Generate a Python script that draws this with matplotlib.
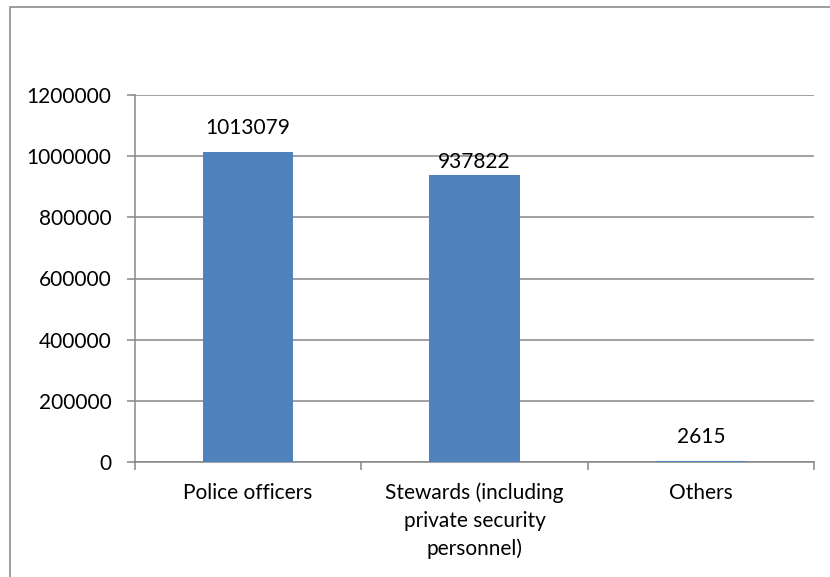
import matplotlib.pyplot as plt
from matplotlib.patches import Rectangle

categories = ["Police officers", "Stewards (including\nprivate security\npersonnel)", "Others"]
values = [1013079, 937822, 2615]
y_ticks = [0, 200000, 400000, 600000, 800000, 1000000, 1200000]

# label offsets above each bar, in points
label_offsets = [10, 2, 10]

plt.rcParams['font.family'] = ['Lato', 'DejaVu Sans']
fs = 15

fig = plt.figure(figsize=(8.3, 5.77), dpi=100)
ax = fig.add_axes([135 / 830, 115 / 577, 679 / 830, 367 / 577])

# chart frame
fig.patches.append(Rectangle((10 / 830, -0.1), 1.2, (570 / 577) + 0.1,
                             transform=fig.transFigure, fill=False,
                             edgecolor='#8c8c8c', linewidth=1.2))

x = range(len(categories))
ax.bar(x, values, width=0.4, color='#4f81bd', zorder=3)

for i, v in enumerate(values):
    ax.annotate(str(v), (i, v), xytext=(0, label_offsets[i]), textcoords='offset points',
                ha='center', va='bottom', fontsize=fs)

ax.set_xlim(-0.5, len(categories) - 0.5)
ax.set_ylim(0, 1200000)
ax.set_yticks(y_ticks)
ax.set_yticklabels([str(t) for t in y_ticks], fontsize=fs)
ax.yaxis.grid(True, color='#868686', linewidth=1.1, zorder=0)

ax.set_xticks(x)
ax.set_xticklabels(categories, fontsize=fs, linespacing=1.45)
ax.tick_params(axis='x', length=0, pad=15)
ax.set_xticks([-0.5, 0.5, 1.5, 2.5], minor=True)
ax.tick_params(axis='x', which='minor', length=6, color='#868686', width=1.1)
ax.tick_params(axis='y', length=6, color='#868686', width=1.1, pad=11)

for side in ['top', 'right']:
    ax.spines[side].set_visible(False)
for side in ['left', 'bottom']:
    ax.spines[side].set_color('#868686')
    ax.spines[side].set_linewidth(1.1)

fig.savefig('out.png', dpi=100)
